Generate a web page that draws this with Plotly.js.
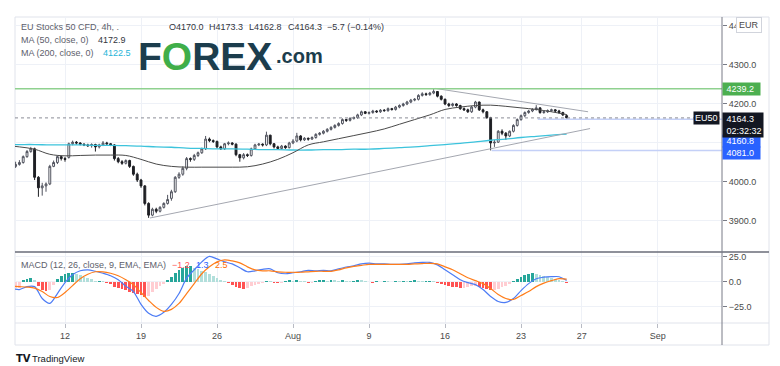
<!DOCTYPE html>
<html><head><meta charset="utf-8">
<script src="https://cdn.plot.ly/plotly-3.0.1.min.js"></script>
<style>html,body{margin:0;padding:0;background:#fff;}#chart{width:780px;height:366px;}</style>
</head><body><div id="chart"></div>
<script>
// ---------- DATA ----------
const tickDays = [0, 5, 10, 15, 20, 25, 30, 34, 39];
const tickLabels = ['12', '19', '26', 'Aug', '9', '16', '23', '27', 'Sep'];

// 4h-style bars, every quarter trading day starting at day -3.25 (day 0 = Jul 12)
const barStart = -3.25, barStep = 0.25;
const openP = [
 4040,4045,4050,4065,4078,4085,4012,3985,3990,3995,
 4040,4050,4065,4060,4063,4098,4102,4100,4097,4095,
 4093,4096,4090,4095,4100,4098,4095,4060,4052,4048,
 4055,4040,4020,4005,3990,3945,3915,3930,3925,3935,
 3945,3958,3975,4012,4020,4035,4060,4058,4068,4075,
 4085,4110,4106,4104,4090,4085,4098,4100,4097,4070,
 4062,4070,4068,4085,4095,4097,4095,4120,4098,4090,
 4086,4092,4088,4100,4105,4118,4108,4112,4110,4114,
 4122,4125,4130,4135,4140,4145,4150,4160,4158,4163,
 4165,4172,4180,4176,4178,4182,4180,4184,4183,4188,
 4186,4192,4196,4200,4205,4210,4212,4222,4226,4224,
 4228,4232,4220,4212,4200,4196,4200,4196,4188,4185,
 4180,4192,4205,4185,4180,4165,4100,4102,4130,4125,
 4118,4130,4145,4160,4170,4178,4182,4186,4190,4178,
 4180,4183,4185,4182,4178,4170.0];
const highP = [
 4052,4056,4068,4082,4090,4088,4015,3998,3999,4044,
 4055,4068,4068,4064,4101,4106,4105,4102,4099,4098,
 4099,4098,4098,4105,4103,4100,4097,4064,4056,4058,
 4057,4042,4024,4008,3992,3948,3934,3934,3938,3948,
 3967,3980,4015,4025,4040,4064,4063,4072,4078,4088,
 4118,4114,4109,4106,4093,4100,4104,4102,4099,4072,
 4074,4073,4088,4098,4100,4099,4129,4121,4100,4093,
 4095,4094,4103,4110,4126,4120,4115,4114,4117,4125,
 4128,4133,4138,4143,4148,4153,4163,4162,4166,4168,
 4175,4183,4182,4181,4185,4184,4187,4187,4191,4190,
 4195,4199,4203,4208,4213,4215,4225,4230,4229,4231,
 4238,4233,4222,4214,4203,4203,4202,4198,4191,4188,
 4195,4208,4206,4188,4182,4167,4108,4133,4135,4128,
 4132,4148,4163,4173,4181,4185,4189,4197,4192,4183,
 4186,4188,4187,4185,4180,4173.3];
const lowP = [
 4036,4042,4047,4062,4075,4005,3962,3965,3975,3992,
 4038,4046,4055,4052,4060,4094,4096,4094,4092,4090,
 4088,4078,4086,4092,4095,4092,4055,4048,4044,4045,
 4036,4016,4000,3985,3940,3908,3912,3920,3922,3932,
 3942,3952,3972,4008,4016,4030,4052,4054,4064,4072,
 4082,4102,4100,4086,4082,4082,4094,4094,4066,4052,
 4058,4064,4065,4082,4092,4091,4092,4094,4086,4082,
 4083,4085,4086,4097,4102,4104,4105,4106,4108,4111,
 4119,4122,4127,4132,4137,4142,4147,4154,4155,4160,
 4162,4169,4174,4173,4175,4177,4177,4180,4180,4183,
 4183,4189,4193,4197,4202,4207,4209,4219,4221,4221,
 4225,4217,4209,4197,4192,4193,4193,4185,4182,4177,
 4177,4189,4182,4176,4162,4081,4090,4100,4120,4108,
 4115,4127,4142,4157,4166,4175,4179,4183,4175,4175,
 4177,4180,4179,4175,4169,4162.8];
const closeP = [
 4045,4050,4065,4078,4085,4012,3985,3990,3995,4040,
 4050,4065,4060,4058,4098,4102,4100,4097,4095,4093,
 4096,4090,4095,4100,4098,4095,4060,4052,4048,4055,
 4040,4020,4005,3990,3945,3915,3930,3925,3935,3945,
 3955,3975,4012,4020,4035,4060,4058,4068,4075,4085,
 4110,4106,4104,4090,4085,4098,4100,4097,4070,4062,
 4070,4068,4085,4095,4097,4095,4120,4098,4090,4086,
 4092,4088,4100,4105,4118,4108,4112,4110,4114,4122,
 4125,4130,4135,4140,4145,4150,4160,4158,4163,4165,
 4172,4180,4176,4178,4182,4180,4184,4183,4188,4186,
 4192,4196,4200,4205,4210,4212,4222,4226,4224,4228,
 4232,4220,4212,4200,4196,4200,4196,4188,4185,4180,
 4192,4205,4185,4180,4165,4100,4102,4130,4125,4118,
 4130,4145,4160,4170,4178,4182,4186,4190,4178,4180,
 4183,4185,4182,4178,4172,4164.3];
const macdHist = [
 -6,-6,2,3,4,2,-4,-8,-9,-8,
 -3,3,6,8,9,9,8,7,5,4,
 3,1,1,0.5,-1,-2,-5,-6,-7,-8,
 -10,-11,-12,-13,-15,-14,-10,-7,-4,-2,
 2,5,9,12,14,16,16,14,13,11,
 10,8,6,4,2,1,-1,-3,-5,-6,
 -7,-6,-4,-3,-2,-1,1,0.5,-1,-1.5,
 -1,1,1.5,1,2,1,0.5,-1,-1,1,
 1.5,2,1,2,1.5,1,2,1,0.5,1,
 2,1.5,1,-0.5,-1,0.5,-0.5,1,0.5,-0.5,
 1,0.5,1,0.5,1,1.5,1,0.5,0.5,1,
 0.5,-1,-2,-3,-4,-5,-5.5,-6,-6,-5,
 -4.5,-4,-5,-6,-7,-8,-8,-7,-5,-4,
 -2,1,3,5,7,8,8.5,8,7,6,
 5,4,3,2,1,-1.2];

// MACD / signal lines every half day starting at day -3.5
const lineStart = -3.5, lineStep = 0.5;
const macdLine = [
 -7,-8,-5,-5,-17,-22,-12,
 -1,7,11,12,10.5,8.5,6,2,-4.5,-10,-23,-32,-35,-31,-23,-12,3.5,12,20,25.5,23,20,18,14,10,11,12.5,13,
 9,8,9,10,11.5,11,11.5,11,13,14.8,16,18,18.7,18,18,17.5,17.5,18,19,19.5,19.5,17,12,7,2,-1,-3,-8,
 -15,-20,-21,-17,-9,-2,3,4.5,5,5,1.3];
const signalLine = [
 -4.5,-5,-5.5,-6.5,-10,-15,-16,
 -11,-4,3,7.5,10,10,8.5,6,2,-3,-11,-19,-26,-30,-28,-22,-12,-2,8,15,20,22,21,19,15,12,11,11,
 10,9.5,9.5,9.5,10,10.5,10.5,10.5,12,14,15.5,16.5,17.5,17.5,17.5,17.5,17.5,17.5,18,18.3,18.5,18,15,12,8,4,1,-2,
 -7,-13,-17,-18,-14,-10,-5,-1.5,1,3,2.5];

// Moving averages, one value per trading day starting at day -4
const maStart = -4;
const ma50 = [4094,4090,4084,4071,4067,4068,4069,4069,4068,4058,4046,4040,4038,4038,4038,4038,4039,4046,4058,4075,
 4095,4103,4111,4119,4127,4136,4148,4160,4172,4186,4192,4196,4197,4194,4190,4186,4180,4172.9];
const ma200 = [4096,4096,4096,4095,4095,4095,4094,4094,4093,4092,4090,4089,4087,4086,4085,4085,4084,4083,4083,4082,
 4082,4083,4083,4084,4084,4086,4088,4090,4093,4096,4099,4103,4107,4110,4114,4117,4120,4122.5];

// Drawings
const upperTrendDays = [24.34, 34.41], upperTrendPrices = [4240, 4180];
const lowerTrendDays = [5.59, 34.54], lowerTrendPrices = [3907.7, 4137];
const resistanceLevel = 4239.2;
const supportLevels = [4160.8, 4081.0];
const supportStartDays = [31.1, 28.07];
const lastPrice = 4164.3;
const priceTicks = [3900, 4000, 4100, 4200, 4300, 4400];
const priceTickLabels = ['3900.0', '4000.0', '', '4200.0', '4300.0', '4400.0']; // 4100.0 sits under the blue tags
const macdTicks = [-25, 0, 25];

// ---------- GEOMETRY HELPERS ----------
const W = 780, H = 366, ML = 15, MR = 58, MT = 17, MB = 43;
const PW = W - ML - MR, PH = H - MT - MB;
const px = x => (x - ML) / PW;
const py = y => (H - MB - y) / PH;
const split = py(252);
const xRange = [-3.29, 43.22];

const barDays = closeP.map((_, i) => barStart + i * barStep);
const lineDays = macdLine.map((_, i) => lineStart + i * lineStep);
const maDays = ma50.map((_, i) => maStart + i);

const histColors = macdHist.map((v, i) => {
  const p = i > 0 ? macdHist[i - 1] : v;
  if (v >= 0) return v >= p ? '#26a69a' : '#b2dfdb';
  return v < p ? '#ff5252' : '#ffcdd2';
});

const traces = [
  {type: 'candlestick', x: barDays, open: openP, high: highP, low: lowP, close: closeP,
   xaxis: 'x', yaxis: 'y', hoverinfo: 'skip', whiskerwidth: 0,
   increasing: {line: {color: '#50535e', width: 1}, fillcolor: '#ffffff'},
   decreasing: {line: {color: '#1e1f24', width: 1}, fillcolor: '#1e1f24'}},
  {type: 'scatter', mode: 'lines', x: maDays, y: ma200, line: {color: '#3cc3dc', width: 1.3, shape: 'spline'}, hoverinfo: 'skip'},
  {type: 'scatter', mode: 'lines', x: maDays, y: ma50, line: {color: '#4a4a4a', width: 1, shape: 'spline'}, hoverinfo: 'skip'},
  {type: 'scatter', mode: 'lines', x: upperTrendDays, y: upperTrendPrices, line: {color: '#a4a7b0', width: 1}, hoverinfo: 'skip'},
  {type: 'scatter', mode: 'lines', x: lowerTrendDays, y: lowerTrendPrices, line: {color: '#a4a7b0', width: 1}, hoverinfo: 'skip'},
  {type: 'bar', x: barDays, y: macdHist, width: 0.19, marker: {color: histColors, line: {width: 0}},
   xaxis: 'x', yaxis: 'y2', hoverinfo: 'skip'},
  {type: 'scatter', mode: 'lines', x: lineDays, y: macdLine, xaxis: 'x', yaxis: 'y2',
   line: {color: '#4d7cf5', width: 1.2, shape: 'spline', smoothing: 0.8}, hoverinfo: 'skip'},
  {type: 'scatter', mode: 'lines', x: lineDays, y: signalLine, xaxis: 'x', yaxis: 'y2',
   line: {color: '#ff7d1a', width: 1.2, shape: 'spline', smoothing: 0.8}, hoverinfo: 'skip'}
];

const tickFont = {family: 'Liberation Sans, Arial, sans-serif', size: 9, color: '#4a4a4a'};

const layout = {
  width: W, height: H,
  margin: {l: ML, r: MR, t: MT, b: MB, pad: 0},
  paper_bgcolor: '#ffffff', plot_bgcolor: '#ffffff',
  showlegend: false, bargap: 0, dragmode: false,
  font: {family: 'Liberation Sans, Arial, sans-serif', size: 9, color: '#4a4a4a'},
  xaxis: {range: xRange, tickvals: tickDays, ticktext: tickLabels, anchor: 'y2',
    showgrid: true, gridcolor: '#eef1f7', gridwidth: 1, zeroline: false, showline: false,
    ticks: 'outside', ticklen: 4, tickcolor: '#b8bbc4', tickfont: tickFont,
    rangeslider: {visible: false}, fixedrange: true},
  yaxis: {domain: [split, 1], range: [3820.5, 4423], side: 'right', tickvals: priceTicks,
    ticktext: priceTickLabels, showgrid: true, gridcolor: '#eef1f7', zeroline: false, showline: false,
    ticks: 'outside', ticklen: 4, tickcolor: '#787b86', tickfont: tickFont, fixedrange: true},
  yaxis2: {domain: [0, split], range: [-41.8, 30], side: 'right', tickvals: macdTicks,
    tickformat: '.1f', showgrid: true, gridcolor: '#eef1f7', zeroline: false, showline: false,
    ticks: 'outside', ticklen: 4, tickcolor: '#787b86', tickfont: tickFont, fixedrange: true},
  shapes: [
    {type: 'rect', xref: 'paper', yref: 'paper', x0: 0, x1: px(769), y0: py(345), y1: 1,
     line: {color: '#e0e3eb', width: 1}, layer: 'below'},
    {type: 'line', xref: 'paper', yref: 'paper', x0: 0, x1: px(769), y0: 0, y1: 0,
     line: {color: '#e0e3eb', width: 1}},
    {type: 'line', xref: 'paper', yref: 'y', x0: 0, x1: 1, y0: resistanceLevel, y1: resistanceLevel,
     line: {color: '#8fd18f', width: 1.5}},
    {type: 'line', xref: 'x', yref: 'y', x0: supportStartDays[0], x1: xRange[1], y0: supportLevels[0], y1: supportLevels[0],
     line: {color: '#c4d0f7', width: 1.5}},
    {type: 'line', xref: 'x', yref: 'y', x0: supportStartDays[1], x1: xRange[1], y0: supportLevels[1], y1: supportLevels[1],
     line: {color: '#c4d0f7', width: 1.5}},
    {type: 'line', xref: 'paper', yref: 'y', x0: 0, x1: 1, y0: lastPrice, y1: lastPrice,
     line: {color: '#8a8d96', width: 1, dash: 'dot'}},
    {type: 'line', xref: 'paper', yref: 'paper', x0: 0, x1: px(769), y0: split, y1: split,
     line: {color: '#6a6d78', width: 1.5}},
    {type: 'line', xref: 'paper', yref: 'paper', x0: 1, x1: 1, y0: py(345), y1: 1,
     line: {color: '#787b86', width: 1}}
  ],
  annotations: []
};

function txt(x, y, text, opts) {
  return Object.assign({xref: 'paper', yref: 'paper', x: px(x), y: py(y), text: text, showarrow: false,
    xanchor: 'left', yanchor: 'middle', font: {size: 9, color: '#5d606b'}}, opts || {});
}
const A = layout.annotations;
// legend texts
A.push(txt(19, 27, 'EU Stocks 50 CFD, 4h, .'));
const ohlcLabels = ['O' + openP[openP.length-1].toFixed(1), 'H' + highP[highP.length-1].toFixed(1),
  'L' + lowP[lowP.length-1].toFixed(1), 'C' + closeP[closeP.length-1].toFixed(1), '\u22125.7 (\u22120.14%)'];
const ohlcX = [167, 207, 247, 286, 325];
ohlcLabels.forEach((t, i) => A.push(txt(ohlcX[i], 27, t, {font: {size: 9, color: '#333640'}})));
A.push(txt(19, 40, 'MA (50, close, 0)'));
A.push(txt(96, 40, ma50[ma50.length-1].toFixed(1), {font: {size: 9, color: '#333640'}}));
A.push(txt(19, 53, 'MA (200, close, 0)'));
A.push(txt(101, 53, ma200[ma200.length-1].toFixed(1), {font: {size: 9, color: '#26b4d8'}}));
// FOREX.com logo
A.push(txt(136, 56, '<b>F<span style="color:#3fae49">O</span>REX</b>',
  {font: {size: 39, color: '#1c3d4d', family: 'Liberation Sans, Arial, sans-serif'}}));
A.push(txt(274, 56, '<b>.com</b>', {font: {size: 20, color: '#1c3d4d', family: 'Liberation Sans, Arial, sans-serif'}}));
// MACD legend
A.push(txt(19, 265, 'MACD (12, 26, close, 9, EMA, EMA)'));
A.push(txt(170, 265, macdHist[macdHist.length-1].toFixed(1).replace('-', '\u2212'), {font: {size: 9, color: '#ff5252'}}));
A.push(txt(194, 265, macdLine[macdLine.length-1].toFixed(1), {font: {size: 9, color: '#2962ff'}}));
A.push(txt(213, 265, signalLine[signalLine.length-1].toFixed(1), {font: {size: 9, color: '#ff6d00'}}));
// right axis labels
A.push(txt(736, 25, 'EUR', {bgcolor: '#ffffff', bordercolor: '#d1d4dc', borderwidth: 1, borderpad: 2,
  font: {size: 9, color: '#4a4a4a'}}));
function priceTag(value, text, bg, extra) {
  return Object.assign({xref: 'paper', yref: 'y', x: 1, y: value, text: text, showarrow: false,
    xanchor: 'left', yanchor: 'middle', bgcolor: bg, borderpad: 1, align: 'left',
    font: {size: 9, color: '#ffffff'}}, extra || {});
}
A.push(priceTag(resistanceLevel, ' ' + resistanceLevel.toFixed(1) + '  ', '#4caf50'));
A.push(priceTag(supportLevels[0], ' ' + supportLevels[0].toFixed(1) + '  ', '#2962ff', {yshift: -22}));
A.push(priceTag(supportLevels[1], ' ' + supportLevels[1].toFixed(1) + '  ', '#2962ff', {yshift: -3}));
A.push(priceTag(lastPrice, ' ' + lastPrice.toFixed(1) + '<br> 02:32:32', '#131722', {yanchor: 'top', yshift: 6}));
A.push({xref: 'paper', yref: 'y', x: px(720), y: lastPrice, text: 'EU50', showarrow: false,
  xanchor: 'right', yanchor: 'middle', bgcolor: '#131722', borderpad: 1, font: {size: 9, color: '#ffffff'}});
// TradingView mark
A.push(txt(14, 358, '<b>TV</b>', {font: {size: 10, color: '#131722', family: 'DejaVu Sans, sans-serif'}}));
A.push(txt(30, 358, 'TradingView', {font: {size: 9.5, color: '#131722'}}));

Plotly.newPlot('chart', traces, layout, {staticPlot: true, displayModeBar: false});
</script>
</body></html>
